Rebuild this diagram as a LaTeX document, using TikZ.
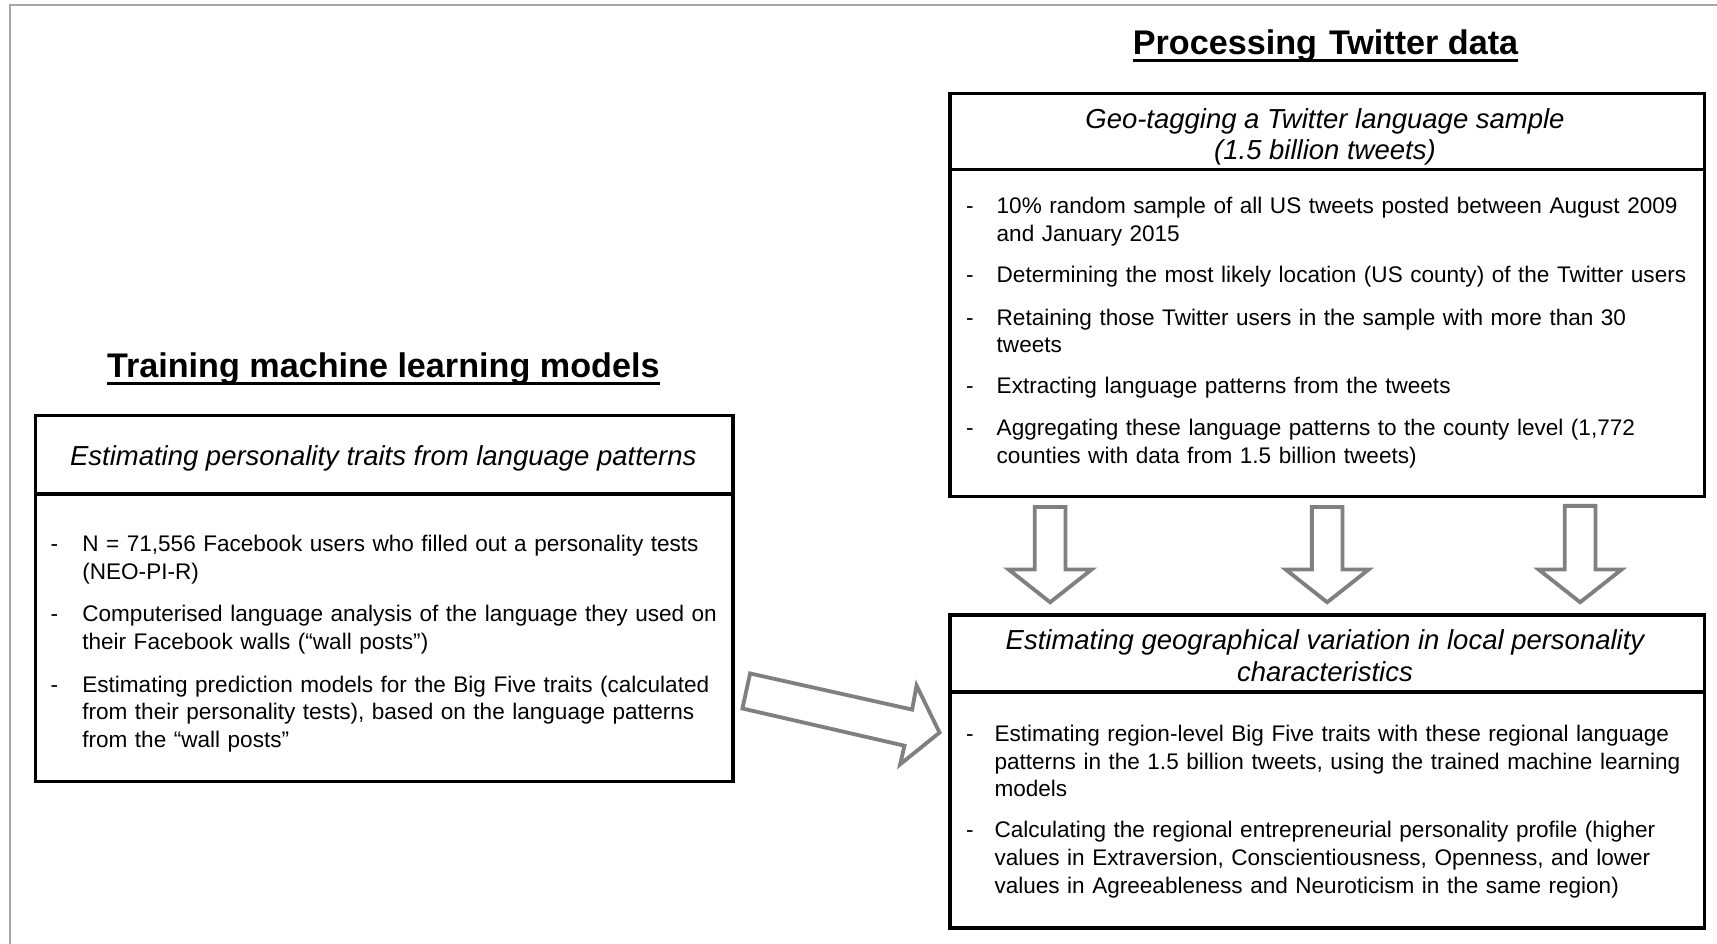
\documentclass[tikz,border=0pt]{standalone}
\usepackage{fontspec}
\setmainfont{Liberation Sans}
\definecolor{arrowgray}{RGB}{128,128,128}
\definecolor{framegray}{RGB}{166,166,166}
\tikzset{
  boxframe/.style={draw=black, line width=3pt, inner sep=0pt, anchor=north west},
  divline/.style={draw=black, line width=3pt},
  bodytxt/.style={font=\fontsize{20.6}{25.3}\selectfont, inner sep=0pt, anchor=base west, align=left, text width=700pt},
  dashtxt/.style={font=\fontsize{20.6}{25.3}\selectfont, inner sep=0pt, anchor=base west},
  headtxt/.style={font=\itshape\fontsize{25.1}{29}\selectfont, inner sep=0pt, anchor=base, align=center},
  titletxt/.style={font=\bfseries\fontsize{31.2}{36}\selectfont, inner sep=0pt, anchor=base},
  uline/.style={draw=black, line width=2.5pt},
  blockarrow/.style={draw=arrowgray, line width=3.5pt, fill=white, line join=miter},
}
\begin{document}
\begin{tikzpicture}[x=1pt,y=-1pt]
\useasboundingbox (0,0) rectangle (1568,862);
% outer frame (left and top edges visible)
\draw[framegray, line width=2pt] (9,862) -- (9,4.5) -- (1568,4.5);

% ---------- titles ----------
\node[titletxt] (ltitle) at (350,345) {Training machine learning models};
\draw[uline] ([yshift=-5pt]ltitle.base west) -- ([yshift=-5pt]ltitle.base east);
\node[titletxt] (rtitle) at (1210.5,50) {Processing\hspace{0.35em}Twitter data};
\draw[uline] ([yshift=-5pt]rtitle.base west) -- ([yshift=-5pt]rtitle.base east);

% ---------- left box ----------
\node[boxframe, minimum width=637pt, minimum height=334pt] (lbox) at (31,378) {};
\draw[divline] (31,451) -- (668,451);
\node[headtxt] (lhead) at (350,425) {Estimating personality traits from language patterns};
\node[dashtxt] (ld1) at (46,504) {-};
\node[bodytxt] (lb1) at (75,504) {N = 71,556 Facebook users who filled out a personality tests\\(NEO-PI-R)};
\node[dashtxt] (ld2) at (46,568) {-};
\node[bodytxt] (lb2) at (75,568) {Computerised language analysis of the language they used on\\their Facebook walls (“wall posts”)};
\node[dashtxt] (ld3) at (46,632) {-};
\node[bodytxt] (lb3) at (75,632) {Estimating prediction models for the Big Five traits (calculated\\from their personality tests), based on the language patterns\\from the “wall posts”};

% ---------- right top box ----------
\node[boxframe, minimum width=689pt, minimum height=368pt] (tbox) at (866,84) {};
\draw[divline] (866,155) -- (1555,155);
\node[headtxt] (thead) at (1210,146) {Geo-tagging a Twitter language sample\\(1.5 billion tweets)};
\node[dashtxt] (td1) at (882,195) {-};
\node[bodytxt] (tb1) at (910,195) {10\% random sample of all US tweets posted between August 2009\\and January 2015};
\node[dashtxt] (td2) at (882,258) {-};
\node[bodytxt] (tb2) at (910,258) {Determining the most likely location (US county) of the Twitter users};
\node[dashtxt] (td3) at (882,297) {-};
\node[bodytxt] (tb3) at (910,297) {Retaining those Twitter users in the sample with more than 30\\tweets};
\node[dashtxt] (td4) at (882,359) {-};
\node[bodytxt] (tb4) at (910,359) {Extracting language patterns from the tweets};
\node[dashtxt] (td5) at (882,398) {-};
\node[bodytxt] (tb5) at (910,398) {Aggregating these language patterns to the county level (1,772\\counties with data from 1.5 billion tweets)};

% ---------- right bottom box ----------
\node[boxframe, minimum width=689pt, minimum height=286pt] (bbox) at (866,560) {};
\draw[divline] (866,632) -- (1555,632);
\node[headtxt] (bhead) at (1210,622) {Estimating geographical variation in local personality\\characteristics};
\node[dashtxt] (bd1) at (882,677) {-};
\node[bodytxt] (bb1) at (908,677) {Estimating region-level Big Five traits with these regional language\\patterns in the 1.5 billion tweets, using the trained machine learning\\models};
\node[dashtxt] (bd2) at (882,765) {-};
\node[bodytxt] (bb2) at (908,765) {Calculating the regional entrepreneurial personality profile (higher\\values in Extraversion, Conscientiousness, Openness, and lower\\values in Agreeableness and Neuroticism in the same region)};

% ---------- block arrows ----------
\foreach \c/\t in {959/463,1212/463,1443/462}{
  \draw[blockarrow] ({\c-14},\t) -- ({\c+14},\t) -- ({\c+14},520) -- ({\c+38},520)
    -- (\c,550) -- ({\c-38},520) -- ({\c-14},520) -- cycle;
}
\draw[blockarrow] (685,615) -- (833,648) -- (837,626) -- (858,669) -- (822,698) -- (826,681) -- (678,647) -- cycle;
\end{tikzpicture}
\end{document}
